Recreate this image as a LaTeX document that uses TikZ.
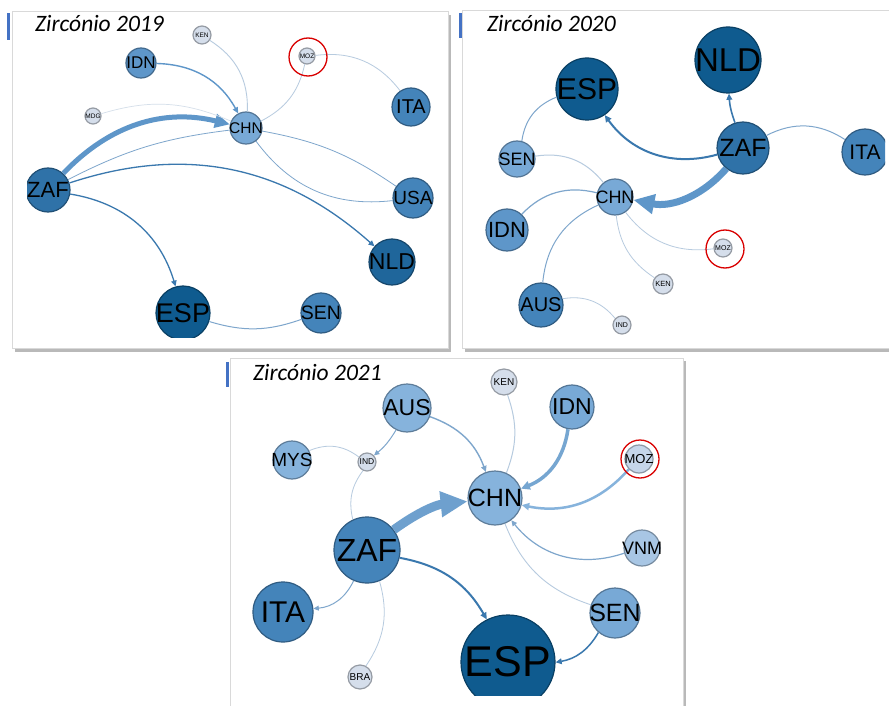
\documentclass[tikz,border=0pt]{standalone}
\usepackage{fontspec}
\setmainfont{Liberation Sans}
\newfontfamily\ttlfont{Carlito}
\usetikzlibrary{arrows.meta}
\definecolor{zrdark}{HTML}{0F5B8F}
\definecolor{zrdeep}{HTML}{1F669B}
\definecolor{zrmid}{HTML}{2F72A8}
\definecolor{zrblue}{HTML}{4484BA}
\definecolor{zrsky}{HTML}{5E96C9}
\definecolor{zrlight}{HTML}{78A9D6}
\definecolor{zrpale}{HTML}{86B3DC}
\definecolor{zrice}{HTML}{A8C6E4}
\definecolor{zrfog}{HTML}{C6D6EA}
\definecolor{zrmini}{HTML}{D5DEEB}
\definecolor{zredge}{HTML}{3A78AE}
\definecolor{zrline}{HTML}{7EA6CC}
\definecolor{zrthin}{HTML}{B7CBDF}
\definecolor{zrfaint}{HTML}{D5DFEA}
\definecolor{zraccent}{HTML}{4472C4}

\begin{document}
\begin{tikzpicture}[
    x=1pt, y=-1pt,
    cty/.style={circle, inner sep=0pt, fill=#1, draw=#1!70!black, line width=1.2pt,
                execute at begin node=\hbox to 0pt\bgroup\hss,
                execute at end node=\hss\egroup},
    fs/.style={font=\fontsize{#1}{#1}\selectfont},
    lnk/.style={line width=#1},
    hd/.style={-{Triangle[length=4pt 1.4, width=3.5pt 1.4]}},
    flow/.style={-{Triangle[length=0pt 3, width=0pt 2.7]}, line width=#1},
    ring/.style={circle, draw=red!85!black, line width=1.3pt, inner sep=0pt,
                 minimum size=38},
    ttl/.style={anchor=base west, inner sep=0pt,
                font=\ttlfont\itshape\fontsize{23.5}{23.5}\selectfont},
    panel/.style={draw=gray!30, fill=white, line width=0.8pt}
  ]
  \useasboundingbox (0,0) rectangle (889,706);
  \fill[white] (0,0) rectangle (889,706);

  % ---- Panel 2019 ----
  \fill[gray!55] (15,15) rectangle (451,352);
  \draw[panel] (12,11) rectangle (448,348);
  \fill[zraccent] (7,13) rectangle (10,40);
  \node[ttl] (t19) at (35,32) {Zircónio 2019};
  \begin{scope}
    \clip (27,18) rectangle (434,337);
    \node[cty=zrmini, minimum size=18, fs=6.5] (a-ken) at (202,35) {KEN};
    \node[cty=zrsky, minimum size=30, fs=17] (a-idn) at (141,63) {IDN};
    \node[cty=zrmini, minimum size=16, fs=6.5] (a-moz) at (307,56) {MOZ};
    \node[cty=zrblue, minimum size=38, fs=20] (a-ita) at (411,107) {ITA};
    \node[cty=zrmini, minimum size=16, fs=6.5] (a-mdg) at (93,116) {MDG};
    \node[cty=zrlight, minimum size=32, fs=15.5] (a-chn) at (246,128) {CHN};
    \node[cty=zrmid, minimum size=44, fs=22] (a-zaf) at (48,190) {ZAF};
    \node[cty=zrblue, minimum size=40, fs=19] (a-usa) at (413,198) {USA};
    \node[cty=zrdeep, minimum size=46, fs=23] (a-nld) at (392,262) {NLD};
    \node[cty=zrdark, minimum size=54, fs=27] (a-esp) at (183,313) {ESP};
    \node[cty=zrblue, minimum size=40, fs=19.5] (a-sen) at (321,313) {SEN};

    \draw[flow=5, zrsky] (a-zaf) to[bend left=30] (a-chn);
    \draw[lnk=0.8, zrline] (a-zaf) to[bend left=10] (a-chn);
    \draw[lnk=0.8, zrline] (a-chn) to[bend left=12] (a-usa);
    \draw[lnk=0.8, zrline] (a-usa) to[bend left=30] (a-chn);
    \draw[lnk=1.3, zredge, hd] (a-zaf) to[bend left=30] (a-nld);
    \draw[lnk=1.3, zredge, hd] (a-zaf) to[bend left=32] (a-esp);
    \draw[lnk=1.4, zrsky, hd] (a-idn) to[bend left=30] (a-chn);
    \draw[lnk=0.9, zrthin] (a-ken) to[bend left=30] (a-chn);
    \draw[lnk=0.7, zrfaint] (a-mdg) to[bend left=20] (a-chn);
    \draw[lnk=0.8, zrthin] (a-moz) to[bend left=25] (a-chn);
    \draw[lnk=0.8, zrthin] (a-moz) to[bend left=30] (a-ita);
    \draw[lnk=1, zrline] (a-sen) to[bend left=18] (a-esp);
  \end{scope}
  \node[ring] (a-ring) at (308,57) {};

  % ---- Panel 2020 ----
  \fill[gray!55] (465,14) rectangle (900,352);
  \draw[panel] (462,10) rectangle (898,348);
  \fill[zraccent] (459,13) rectangle (462,38);
  \node[ttl] (t20) at (487,32) {Zircónio 2020};
  \begin{scope}
    \clip (464,25) rectangle (885,346);
    \node[cty=zrdark, minimum size=66, fs=33] (b-nld) at (728,60) {NLD};
    \node[cty=zrdark, minimum size=62, fs=30] (b-esp) at (587,89) {ESP};
    \node[cty=zrmid, minimum size=52, fs=25] (b-zaf) at (743,148) {ZAF};
    \node[cty=zrblue, minimum size=46, fs=21] (b-ita) at (865,152) {ITA};
    \node[cty=zrlight, minimum size=36, fs=18] (b-sen) at (517,159) {SEN};
    \node[cty=zrlight, minimum size=36, fs=18] (b-chn) at (615,197) {CHN};
    \node[cty=zrsky, minimum size=42, fs=22] (b-idn) at (507,230) {IDN};
    \node[cty=zrmini, minimum size=18, fs=7] (b-moz) at (723,248) {MOZ};
    \node[cty=zrmini, minimum size=20, fs=7.5] (b-ken) at (663,284) {KEN};
    \node[cty=zrblue, minimum size=44, fs=20] (b-aus) at (541,305) {AUS};
    \node[cty=zrmini, minimum size=18, fs=7] (b-ind) at (622,325) {IND};

    \draw[flow=7, zrsky] (b-zaf) to[bend left=30] (b-chn);
    \draw[lnk=2, zredge, hd] (b-zaf) to[bend left=35] (b-esp);
    \draw[lnk=1.6, zredge, hd] (b-zaf) to[bend left=8] (b-nld);
    \draw[lnk=1, zrline] (b-zaf) to[bend left=30] (b-ita);
    \draw[lnk=1, zrline] (b-sen) to[bend left=30] (b-esp);
    \draw[lnk=1, zrthin] (b-sen) to[bend left=30] (b-chn);
    \draw[lnk=1.2, zrline] (b-idn) to[bend left=30] (b-chn);
    \draw[lnk=1, zrline] (b-aus) to[bend left=30] (b-chn);
    \draw[lnk=0.8, zrthin] (b-ken) to[bend left=25] (b-chn);
    \draw[lnk=0.8, zrthin] (b-moz) to[bend left=30] (b-chn);
    \draw[lnk=0.8, zrthin] (b-aus) to[bend left=30] (b-ind);
  \end{scope}
  \node[ring] (b-ring) at (725,249) {};

  % ---- Panel 2021 ----
  \fill[gray!55] (233,361) rectangle (686,712);
  \draw[panel] (230,358) rectangle (683,710);
  \fill[zraccent] (226,362) rectangle (229,387);
  \node[ttl] (t21) at (253,380) {Zircónio 2021};
  \begin{scope}
    \clip (232,360) rectangle (681,695);
    \node[cty=zrmini, minimum size=26, fs=10] (c-ken) at (504,382) {KEN};
    \node[cty=zrpale, minimum size=48, fs=23] (c-aus) at (407,408) {AUS};
    \node[cty=zrlight, minimum size=44, fs=23] (c-idn) at (572,407) {IDN};
    \node[cty=zrpale, minimum size=38, fs=19] (c-mys) at (292,460) {MYS};
    \node[cty=zrmini, minimum size=18, fs=8.5] (c-ind) at (367,462) {IND};
    \node[cty=zrfog, minimum size=28, fs=13] (c-moz) at (639,459) {MOZ};
    \node[cty=zrpale, minimum size=54, fs=25] (c-chn) at (495,498) {CHN};
    \node[cty=zrblue, minimum size=66, fs=32] (c-zaf) at (367,550) {ZAF};
    \node[cty=zrice, minimum size=36, fs=18] (c-vnm) at (642,548) {VNM};
    \node[cty=zrblue, minimum size=60, fs=30] (c-ita) at (283,612) {ITA};
    \node[cty=zrlight, minimum size=50, fs=25] (c-sen) at (615,613) {SEN};
    \node[cty=zrdark, minimum size=94, fs=43] (c-esp) at (508,662) {ESP};
    \node[cty=zrmini, minimum size=24, fs=10] (c-bra) at (360,677) {BRA};

    \draw[flow=9, zrsky!90] (c-zaf) to[bend left=15] (c-chn);
    \draw[lnk=2, zredge, hd] (c-zaf) to[bend left=25] (c-esp);
    \draw[lnk=1, zrline, hd] (c-zaf) to[bend left=30] (c-ita);
    \draw[lnk=0.8, zrthin] (c-zaf) to[bend left=25] (c-bra);
    \draw[lnk=0.8, zrthin] (c-zaf) to[bend left=25] (c-ind);
    \draw[lnk=1, zrline, hd] (c-aus) to[bend left=10] (c-ind);
    \draw[lnk=0.8, zrthin] (c-mys) to[bend left=30] (c-ind);
    \draw[lnk=1.4, zrline, hd] (c-aus) to[bend left=25] (c-chn);
    \draw[lnk=1, zrthin] (c-ken) to[bend left=20] (c-chn);
    \draw[lnk=3.5, zrsky!85, hd] (c-idn) to[bend left=30] (c-chn);
    \draw[lnk=2.5, zrpale, hd] (c-moz) to[bend left=30] (c-chn);
    \draw[lnk=1.2, zrline, hd] (c-vnm) to[bend left=35] (c-chn);
    \draw[lnk=0.9, zrthin] (c-sen) to[bend left=25] (c-chn);
    \draw[lnk=1.5, zredge, hd] (c-sen) to[bend left=25] (c-esp);
  \end{scope}
  \node[ring] (c-ring) at (640,459) {};

\end{tikzpicture}
\end{document}
